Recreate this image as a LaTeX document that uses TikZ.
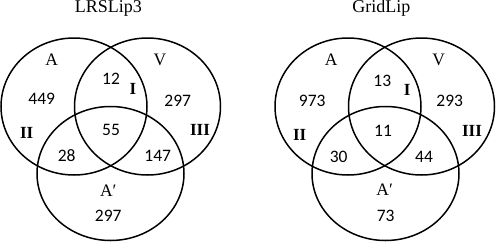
\documentclass[tikz,border=0pt]{standalone}
\usepackage{fontspec}
\setmainfont{Liberation Serif}
\newfontfamily\numfont{Carlito}
\usetikzlibrary{positioning}

\begin{document}
\begin{tikzpicture}[
  x=1pt,y=-1pt,
  set/.style   ={line width=1.5pt},
  title/.style ={anchor=base,inner sep=0pt,font=\fontsize{18}{20}\selectfont},
  setlbl/.style={anchor=base,inner sep=0pt,font=\fontsize{17.5}{20}\selectfont},
  cnt/.style   ={anchor=base,inner sep=0pt,font=\numfont\fontsize{17.5}{20}\selectfont},
  region/.style={anchor=base,inner sep=0pt,font=\fontsize{17}{20}\selectfont\bfseries},
]
\useasboundingbox (0,0) rectangle (496,242);

%% ── Left: LRSLip3 ────────────────────────────────────────────────────────────
\node[title] (t1) at (108.4,12.7) {LRSLip3};
\coordinate (a1) at (74,106.5);
\coordinate (v1) at (147.5,106.5);
\coordinate (p1) at (110.5,173.5);
\draw[set] (a1) ellipse [x radius=73,y radius=68.5];
\draw[set] (v1) ellipse [x radius=73,y radius=68.5];
\draw[set] (p1) ellipse [x radius=73.5,y radius=67];

\node[setlbl] (la1) at (51.7,65.7)  {A};
\node[setlbl] (lv1) at (160,65.7)   {V};
\node[setlbl] (lp1) at (108.3,196.7) {A′};

\node[cnt] (na1)  at (41.7,104.3)  {449};
\node[cnt] (nv1)  at (177.7,106)   {297};
\node[cnt] (nav1) at (111,84)      {12};
\node[cnt] (nall1)at (111,135)     {55};
\node[cnt] (nap1) at (66.7,161.7)  {28};
\node[cnt] (nvp1) at (157.7,161.7) {147};
\node[cnt] (np1)  at (108.3,221.7) {297};

\node[region] (ri1)   at (133,94.3)   {I};
\node[region] (rii1)  at (26.7,138.3) {II};
\node[region] (riii1) at (200,135)    {III};

%% ── Right: GridLip ───────────────────────────────────────────────────────────
\node[title] (t2) at (381.3,12.7) {GridLip};
\coordinate (a2) at (348,106.5);
\coordinate (v2) at (421.5,106.5);
\coordinate (p2) at (385.5,173.5);
\draw[set] (a2) ellipse [x radius=73,y radius=68.5];
\draw[set] (v2) ellipse [x radius=73,y radius=68.5];
\draw[set] (p2) ellipse [x radius=73.5,y radius=67];

\node[setlbl] (la2) at (331.3,65.7) {A};
\node[setlbl] (lv2) at (438.7,65.7) {V};
\node[setlbl] (lp2) at (384.7,195)  {A′};

\node[cnt] (na2)  at (312.3,106.7) {973};
\node[cnt] (nv2)  at (449.7,106.7) {293};
\node[cnt] (nav2) at (382.3,86.7)  {13};
\node[cnt] (nall2)at (383,136.7)   {11};
\node[cnt] (nap2) at (338.7,162.3) {30};
\node[cnt] (nvp2) at (424,162.3)   {44};
\node[cnt] (np2)  at (385.7,221.7) {73};

\node[region] (ri2)   at (407.3,95.7)  {I};
\node[region] (rii2)  at (299.7,140)   {II};
\node[region] (riii2) at (472,136.7)   {III};

\end{tikzpicture}
\end{document}
